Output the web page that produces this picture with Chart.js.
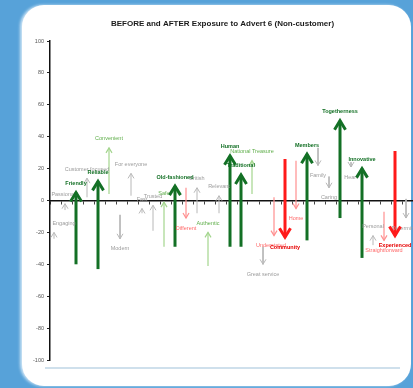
<!DOCTYPE html>
<html>
<head>
<meta charset="utf-8">
<script src="https://cdn.jsdelivr.net/npm/chart.js@4.4.1/dist/chart.umd.min.js"></script>
<style>
  html, body { margin: 0; padding: 0; overflow: hidden; width: 413px; height: 388px; background: #57a2d9; }
  #panel { position: absolute; left: 22px; top: 5px; width: 389px; height: 381px; background: #fff; border-radius: 22px; box-shadow: -2px 0 3px rgba(235,245,252,0.8); }
  #rule { position: absolute; left: 45px; top: 367px; width: 355px; height: 2px; background: #cfe0ec; }
  #wrap { position: absolute; left: 0; top: 0; width: 413px; height: 388px; }
</style>
</head>
<body>
<div id="panel"></div>
<div id="rule"></div>
<div id="wrap"><canvas id="c" width="413" height="388"></canvas></div>
<script>
// Brand attribute scores before and after seeing Advert 6 (non-customers)
const attributes = [
  'Engaging', 'Passionate', 'Friendly', 'Customer focused', 'Reliable', 'Convenient',
  'Modern', 'For everyone', 'Fast', 'Trusted', 'Safe', 'Old-fashioned', 'Different',
  'British', 'Authentic', 'Relevant', 'Human', 'Traditional', 'National Treasure',
  'Great service', 'Understated', 'Community', 'Home', 'Members', 'Family', 'Caring',
  'Togetherness', 'Heart', 'Innovative', 'Personal', 'Straightforward', 'Experienced',
  'Determined'
];
const before = [
  -24, -6, -40, 2, -43, 4, -9, 3, -8, -19, -29, -29, 8, -8, -41, -8, -29, -29, 4,
  -29, 2, 26, 25, -25, 33, 15, -11, 24, -36, -28, -7, 31, 1
];
const after = [
  -20, -2, 5, 14, 12, 33, -24, 17, -5, -3, -1, 9, -11, 8, -20, 3, 28, 16, 25,
  -40, -22, -23, -5, 29, 22, 8, 50, 21, 20, -22, -25, -22, -11
];
// significance of each shift
const shift = [
  'neutral', 'neutral', 'strongUp', 'neutral', 'strongUp', 'up', 'neutral', 'neutral',
  'neutral', 'neutral', 'up', 'strongUp', 'down', 'neutral', 'up', 'neutral', 'strongUp',
  'strongUp', 'up', 'neutral', 'down', 'strongDown', 'down', 'strongUp', 'neutral',
  'neutral', 'strongUp', 'neutral', 'strongUp', 'neutral', 'down', 'strongDown', 'neutral'
];
const yTickStep = 20;

const TITLE = 'BEFORE and AFTER Exposure to Advert 6 (Non-customer)';
const FONT = '"Liberation Sans", Arial, sans-serif';

const looks = {
  strongUp:   { line: '#137025', text: '#137025', width: 3,   head: 5.5, len: 9, bold: true },
  strongDown: { line: '#ff1a1a', text: '#e60000', width: 3,   head: 5.5, len: 9, bold: true },
  up:         { line: '#a3d58d', text: '#5fae4a', width: 1.2, head: 3, len: 5, bold: false },
  down:       { line: '#ff9090', text: '#ff6a6a', width: 1.2, head: 3, len: 5, bold: false },
  neutral:    { line: '#b8b8b8', text: '#9c9c9c', width: 1,   head: 3, len: 5, bold: false }
};
const labelNudge = { 0: 10, 20: -3 };

const datasets = attributes.map((name, i) => ({
  label: name,
  kind: shift[i],
  data: [{ x: i, y: before[i] }, { x: i, y: after[i] }],
  showLine: true,
  borderColor: looks[shift[i]].line,
  borderWidth: looks[shift[i]].width,
  pointRadius: 0,
  fill: false,
  order: shift[i].startsWith('strong') ? 0 : 1
}));

// Title centred over the white panel rather than the whole canvas
const panelTitle = {
  id: 'panelTitle',
  afterDraw(chart) {
    const ctx = chart.ctx;
    ctx.save();
    ctx.font = 'bold 8px ' + FONT;
    ctx.fillStyle = '#1a1a1a';
    ctx.textAlign = 'center';
    ctx.textBaseline = 'middle';
    ctx.fillText(TITLE, chart.width / 2 + 16, 24);
    ctx.restore();
  }
};

const arrowHeads = {
  id: 'arrowHeads',
  afterDatasetsDraw(chart) {
    const ctx = chart.ctx;
    const draw = (onlyStrong) => chart.data.datasets.forEach((ds, i) => {
      const strong = ds.kind.startsWith('strong');
      if (strong !== onlyStrong) return;
      const meta = chart.getDatasetMeta(i);
      const p0 = meta.data[0], p1 = meta.data[1];
      const st = looks[ds.kind];
      const dir = p1.y < p0.y ? -1 : 1;
      ctx.save();
      ctx.strokeStyle = st.line;
      ctx.lineWidth = st.width;
      ctx.lineJoin = 'miter';
      ctx.beginPath();
      ctx.moveTo(p1.x - st.head, p1.y - dir * st.len);
      ctx.lineTo(p1.x, p1.y);
      ctx.lineTo(p1.x + st.head, p1.y - dir * st.len);
      ctx.stroke();
      ctx.font = (st.bold ? 'bold ' : '') + '5.5px ' + FONT;
      ctx.fillStyle = st.text;
      ctx.textAlign = 'center';
      ctx.textBaseline = 'middle';
      ctx.fillText(ds.label, p1.x + (labelNudge[i] || 0), p1.y + (dir < 0 ? -9 : 10));
      ctx.restore();
    });
    draw(false);
    draw(true);
  }
};

new Chart(document.getElementById('c'), {
  type: 'scatter',
  data: { datasets },
  options: {
    responsive: false,
    animation: false,
    devicePixelRatio: 1,
    layout: { padding: { top: 41, right: 0, bottom: 28, left: 0 } },
    plugins: {
      legend: { display: false },
      tooltip: { enabled: false },
      title: { display: false }
    },
    scales: {
      x: {
        type: 'linear',
        position: { y: 0 },
        min: -0.364,
        max: 32.636,
        ticks: { display: false, stepSize: 1, includeBounds: false },
        grid: { drawOnChartArea: false, drawTicks: true, tickLength: 3, color: '#444' },
        border: { display: true, color: '#111', width: 1.5 }
      },
      y: {
        min: -100,
        max: 100,
        ticks: { stepSize: yTickStep, color: '#555', padding: 3, font: { family: FONT, size: 5.5 } },
        grid: { drawOnChartArea: false, tickLength: 3, color: '#222' },
        border: { color: '#111', width: 1.5 },
        afterFit(scale) { scale.width = 50; }
      }
    }
  },
  plugins: [arrowHeads, panelTitle]
});
</script>
</body>
</html>
